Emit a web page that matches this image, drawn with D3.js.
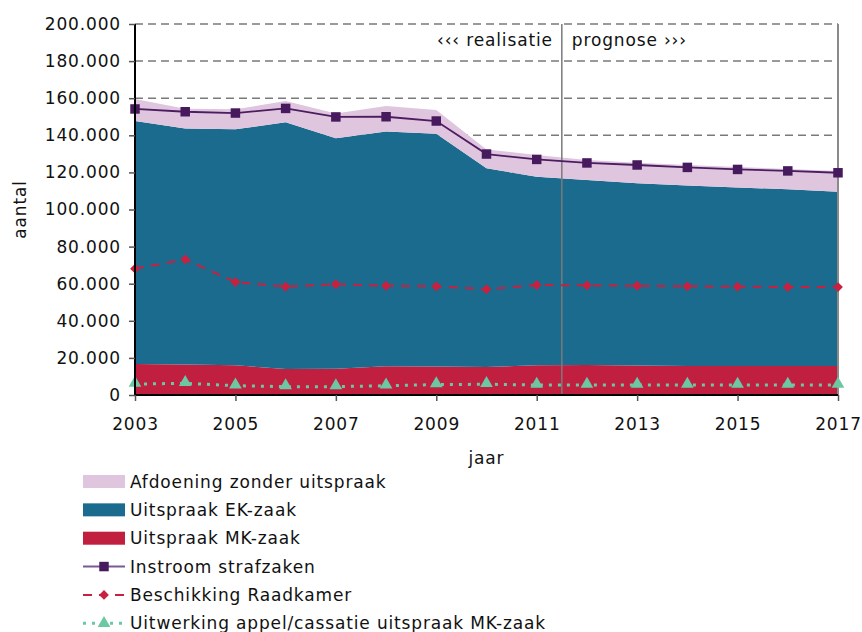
<!DOCTYPE html>
<html>
<head>
<meta charset="utf-8">
<script src="https://cdnjs.cloudflare.com/ajax/libs/d3/7.8.5/d3.min.js"></script>
<style>
  html, body { margin: 0; padding: 0; background: #ffffff; }
  svg { display: block; font-family: "DejaVu Sans", Verdana, sans-serif; }
  svg text { letter-spacing: 0.85px; }
</style>
</head>
<body>
<svg id="chart" width="862" height="632"></svg>
<script>
// Strafzaken per jaar: realisatie 2003-2011, prognose 2012-2017
const years = [2003, 2004, 2005, 2006, 2007, 2008, 2009, 2010, 2011, 2012, 2013, 2014, 2015, 2016, 2017];

// Gestapelde vlakken (van onder naar boven)
const uitspraakMK = [16700, 16500, 16000, 14000, 14200, 15500, 15300, 15100, 16000, 16200, 15900, 15700, 15600, 15600, 15600];
const uitspraakEK = [131000, 127100, 127200, 133000, 124200, 126500, 125600, 107100, 101700, 99700, 98200, 97300, 96300, 95300, 94000];
const afdoeningZonder = [11900, 10700, 10800, 11500, 13400, 13800, 12700, 10200, 11700, 10800, 11100, 11000, 11000, 10900, 11200];

// Lijnen
const instroom = [154200, 152700, 152000, 154500, 149900, 150000, 147700, 129900, 127000, 125100, 124000, 122700, 121600, 120800, 119800];
const beschikking = [68100, 73100, 60900, 58400, 59700, 58900, 58600, 57000, 59300, 59100, 58900, 58600, 58400, 58200, 58200];
const uitwerking = [5900, 6300, 5000, 4500, 4500, 5000, 5600, 5800, 5400, 5400, 5400, 5400, 5400, 5400, 5400];

const yTicks = [0, 20000, 40000, 60000, 80000, 100000, 120000, 140000, 160000, 180000, 200000];
const xTickYears = [2003, 2005, 2007, 2009, 2011, 2013, 2015, 2017];
const splitYear = 2011.5;

const legendItems = [
  { label: "Afdoening zonder uitspraak", type: "area", color: "#dfc5de" },
  { label: "Uitspraak EK-zaak", type: "area", color: "#1b6b8f" },
  { label: "Uitspraak MK-zaak", type: "area", color: "#c11f3f" },
  { label: "Instroom strafzaken", type: "square", color: "#7a5a92", marker: "#461a5d" },
  { label: "Beschikking Raadkamer", type: "diamond", color: "#c8203f", marker: "#c8203f" },
  { label: "Uitwerking appel/cassatie uitspraak MK-zaak", type: "triangle", color: "#6cc8a2", marker: "#6cc8a2" }
];

const svg = d3.select("#chart");
const m = { left: 135, right: 838, top: 24, bottom: 395 };

const x = d3.scaleLinear().domain([2003, 2017]).range([m.left, m.right]);
const y = d3.scaleLinear().domain([0, 200000]).range([m.bottom, m.top]);

const fmt = v => d3.format(",")(v).replace(/,/g, ".");

// Rasterlijnen
svg.append("g")
  .selectAll("line")
  .data(yTicks.filter(t => t > 0))
  .join("line")
  .attr("x1", m.left).attr("x2", m.right)
  .attr("y1", d => y(d)).attr("y2", d => y(d))
  .attr("stroke", "#7a7a7a")
  .attr("stroke-width", 1.5)
  .attr("stroke-dasharray", "8,5");

// Stapeling
const rows = years.map((yr, i) => ({
  year: yr,
  mk: uitspraakMK[i],
  ek: uitspraakEK[i],
  af: afdoeningZonder[i]
}));
const stack = d3.stack().keys(["mk", "ek", "af"]);
const series = stack(rows);
const areaColors = { mk: "#c11f3f", ek: "#1b6b8f", af: "#dfc5de" };
const area = d3.area()
  .x(d => x(d.data.year))
  .y0(d => y(d[0]))
  .y1(d => y(d[1]));

svg.append("g")
  .selectAll("path")
  .data(series)
  .join("path")
  .attr("d", area)
  .attr("fill", d => areaColors[d.key]);

// Scheiding realisatie / prognose
svg.append("line")
  .attr("x1", x(splitYear)).attr("x2", x(splitYear))
  .attr("y1", m.top).attr("y2", m.bottom)
  .attr("stroke", "#7a7a7a").attr("stroke-width", 1.5);

// Rechterrand
svg.append("line")
  .attr("x1", m.right).attr("x2", m.right)
  .attr("y1", m.top).attr("y2", m.bottom)
  .attr("stroke", "#8a8a8a").attr("stroke-width", 2);

svg.append("text")
  .attr("x", x(splitYear) - 9).attr("y", 46)
  .attr("text-anchor", "end")
  .attr("font-size", 17).attr("fill", "#111")
  .text("\u2039\u2039\u2039 realisatie");
svg.append("text")
  .attr("x", x(splitYear) + 10).attr("y", 46)
  .attr("text-anchor", "start")
  .attr("font-size", 17).attr("fill", "#111")
  .text("prognose \u203a\u203a\u203a");

// Lijnreeksen
const line = d3.line().x((d, i) => x(years[i])).y(d => y(d));

svg.append("path")
  .datum(uitwerking)
  .attr("d", line)
  .attr("fill", "none")
  .attr("stroke", "#6cc8a2").attr("stroke-width", 3)
  .attr("stroke-dasharray", "3,6");

svg.append("path")
  .datum(beschikking)
  .attr("d", line)
  .attr("fill", "none")
  .attr("stroke", "#c8203f").attr("stroke-width", 2)
  .attr("stroke-dasharray", "9,7");

svg.append("path")
  .datum(instroom)
  .attr("d", line)
  .attr("fill", "none")
  .attr("stroke", "#4b1c60").attr("stroke-width", 1.8);

// Markers
const sq = d3.symbol().type(d3.symbolSquare).size(90);
const dia = d3.symbol().type(d3.symbolSquare).size(48);
const tri = d3.symbol().type(d3.symbolTriangle).size(70);

svg.append("g").selectAll("path")
  .data(uitwerking)
  .join("path")
  .attr("d", tri)
  .attr("transform", (d, i) => `translate(${x(years[i])},${y(d) - 1})`)
  .attr("fill", "#6cc8a2");

svg.append("g").selectAll("path")
  .data(beschikking)
  .join("path")
  .attr("d", dia)
  .attr("transform", (d, i) => `translate(${x(years[i])},${y(d)}) rotate(45)`)
  .attr("fill", "#c8203f");

svg.append("g").selectAll("path")
  .data(instroom)
  .join("path")
  .attr("d", sq)
  .attr("transform", (d, i) => `translate(${x(years[i])},${y(d)})`)
  .attr("fill", "#461a5d");

// Assen
const yAxis = d3.axisLeft(y).tickValues(yTicks).tickFormat(fmt).tickSize(6).tickPadding(8);
const gy = svg.append("g").attr("transform", `translate(${m.left},0)`).call(yAxis);
gy.select(".domain").attr("stroke", "#000").attr("stroke-width", 2).attr("d", `M0,${m.bottom}V${m.top}`);
gy.selectAll(".tick line").attr("stroke", "#555").attr("stroke-width", 1.5);
gy.selectAll(".tick text").attr("font-size", 17).attr("fill", "#111")
  .attr("font-family", "DejaVu Sans, Verdana, sans-serif");

const xAxis = d3.axisBottom(x).tickValues(xTickYears).tickFormat(d3.format("d")).tickSize(6).tickPadding(17);
const gx = svg.append("g").attr("transform", `translate(0,${m.bottom})`).call(xAxis);
gx.select(".domain").attr("stroke", "#000").attr("stroke-width", 2).attr("d", `M${m.left},0H${m.right}`);
gx.selectAll(".tick line").attr("stroke", "#555").attr("stroke-width", 1.5);
gx.selectAll(".tick text").attr("font-size", 17).attr("fill", "#111")
  .attr("font-family", "DejaVu Sans, Verdana, sans-serif");

svg.append("text")
  .attr("x", (m.left + m.right) / 2).attr("y", 464)
  .attr("text-anchor", "middle").attr("font-size", 17).attr("fill", "#111")
  .text("jaar");

svg.append("text")
  .attr("transform", `translate(26,${(m.top + m.bottom) / 2}) rotate(-90)`)
  .attr("text-anchor", "middle").attr("font-size", 17).attr("fill", "#111")
  .text("aantal");

// Legenda
const lg = svg.append("g");
const rowY = i => 481.5 + i * 28.35;
legendItems.forEach((it, i) => {
  const cy = rowY(i);
  const g = lg.append("g");
  if (it.type === "area") {
    g.append("rect").attr("x", 83).attr("y", cy - 6.5).attr("width", 42).attr("height", 13).attr("fill", it.color);
  } else {
    const dash = it.type === "diamond" ? "9,7" : it.type === "triangle" ? "3,6" : null;
    g.append("line")
      .attr("x1", 83).attr("x2", 125).attr("y1", cy).attr("y2", cy)
      .attr("stroke", it.color)
      .attr("stroke-width", it.type === "triangle" ? 3 : 2)
      .attr("stroke-dasharray", dash);
    const sym = it.type === "square" ? sq : it.type === "diamond" ? dia : tri;
    g.append("path").attr("d", sym)
      .attr("transform", `translate(104,${cy})` + (it.type === "diamond" ? " rotate(45)" : ""))
      .attr("fill", it.marker);
  }
  g.append("text")
    .attr("x", 130).attr("y", cy)
    .attr("dy", "0.36em")
    .attr("font-size", 17).attr("fill", "#111")
    .text(it.label);
});
</script>
</body>
</html>
